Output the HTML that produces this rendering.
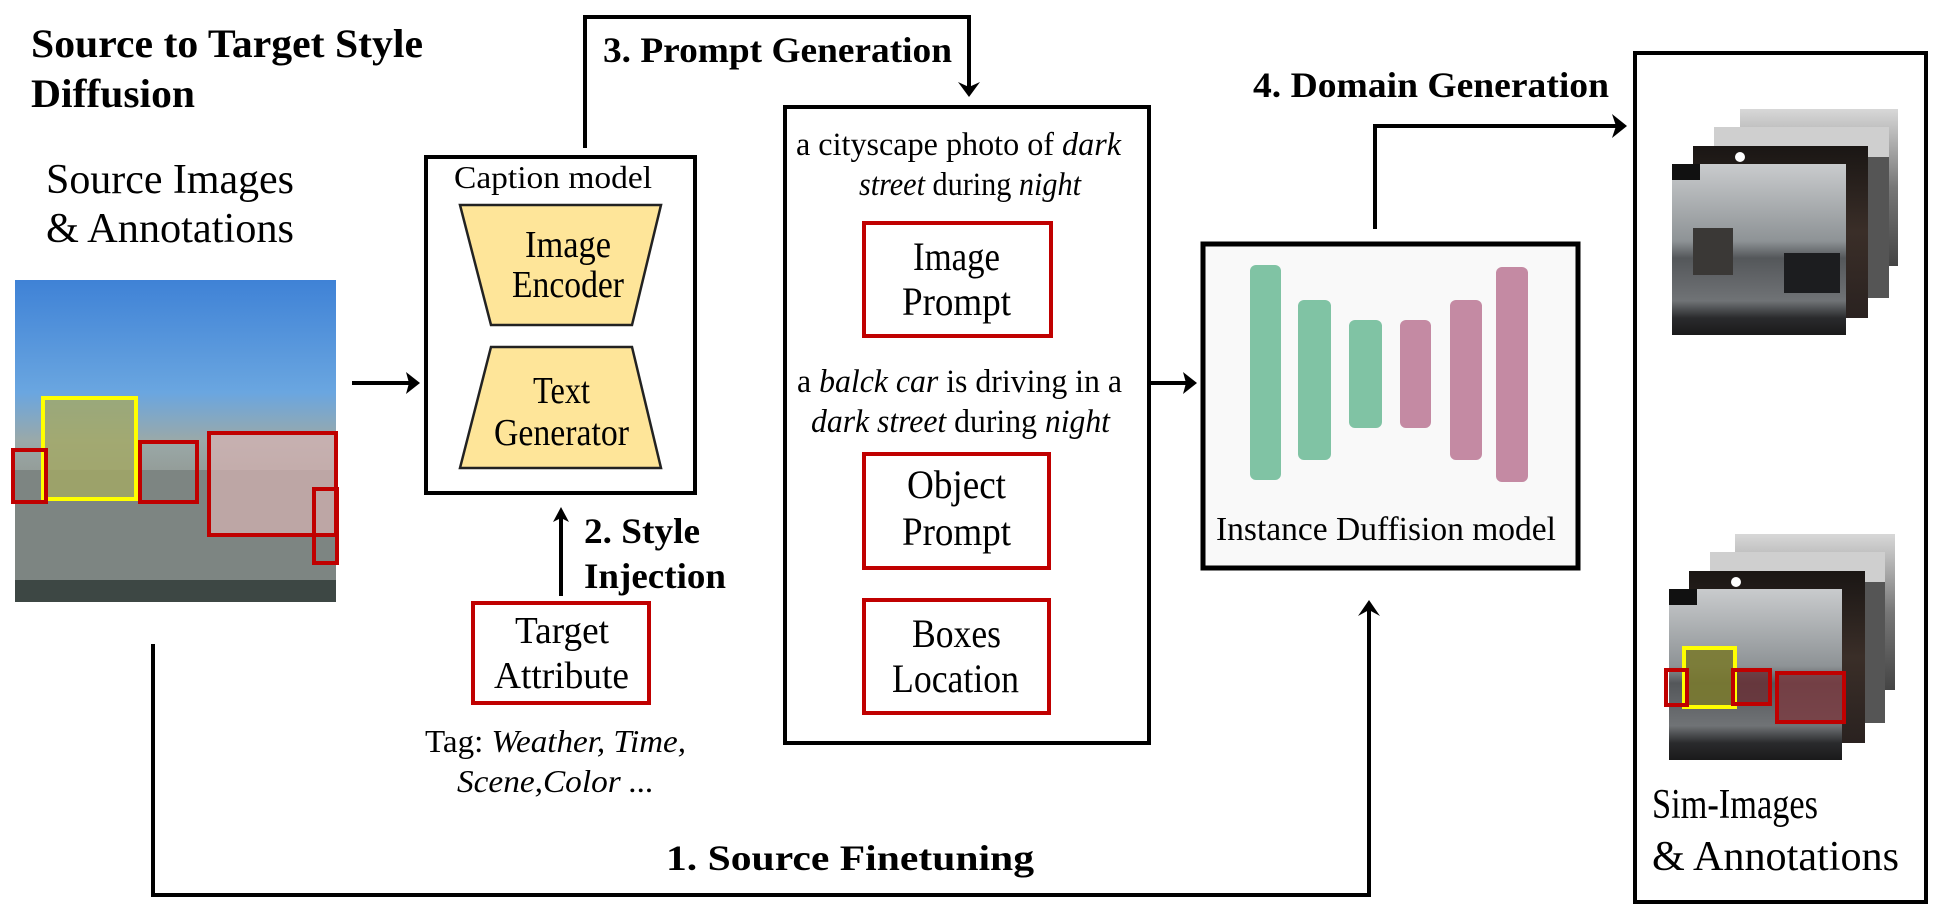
<!DOCTYPE html>
<html><head><meta charset="utf-8"><style>
html,body{margin:0;padding:0;background:#fff;}
svg{display:block;}
text{font-family:"Liberation Serif","Times New Roman",serif;fill:#000;}
.b{font-weight:bold;}
</style></head><body>
<svg width="1938" height="910" viewBox="0 0 1938 910" xmlns="http://www.w3.org/2000/svg">
<defs>
<linearGradient id="src" x1="0" y1="0" x2="0" y2="1">
<stop offset="0" stop-color="#3f82d6"/><stop offset="0.35" stop-color="#6aa6e0"/><stop offset="0.5" stop-color="#9aa9a8"/><stop offset="0.7" stop-color="#8d8f88"/><stop offset="1" stop-color="#5d6a66"/></linearGradient>
<linearGradient id="gray" x1="0" y1="0" x2="0" y2="1">
<stop offset="0" stop-color="#c9cbcd"/><stop offset="0.45" stop-color="#8e9396"/><stop offset="0.55" stop-color="#54575a"/><stop offset="0.8" stop-color="#707376"/><stop offset="0.9" stop-color="#2a2b2d"/><stop offset="1" stop-color="#1a1a1a"/></linearGradient>
<linearGradient id="dark" x1="0" y1="0" x2="0" y2="1">
<stop offset="0" stop-color="#1a1614"/><stop offset="0.5" stop-color="#3a2e28"/><stop offset="1" stop-color="#2a2220"/></linearGradient>
<linearGradient id="fog" x1="0" y1="0" x2="0" y2="1">
<stop offset="0" stop-color="#d8d8d8"/><stop offset="0.5" stop-color="#777"/><stop offset="1" stop-color="#444"/></linearGradient>
</defs>

<text class="b" x="31" y="57" font-size="40" textLength="392" lengthAdjust="spacingAndGlyphs">Source to Target Style</text>
<text class="b" x="31" y="107" font-size="40" textLength="164" lengthAdjust="spacingAndGlyphs">Diffusion</text>

<text x="46" y="193" font-size="42" textLength="248" lengthAdjust="spacingAndGlyphs">Source Images</text>
<text x="46" y="242" font-size="42" textLength="248" lengthAdjust="spacingAndGlyphs">&amp; Annotations</text>

<rect x="15" y="280" width="321" height="322" fill="url(#src)"/>
<rect x="15" y="470" width="321" height="132" fill="#7d8582"/>
<rect x="15" y="580" width="321" height="22" fill="#3d4744"/>
<rect x="43" y="398" width="93" height="101" fill="#a4a964" opacity="0.8"/>
<rect x="43" y="398" width="93" height="101" fill="none" stroke="#ffff00" stroke-width="4"/>
<rect x="209" y="433" width="127" height="102" fill="#d9b4b4" opacity="0.7"/>
<g fill="none" stroke="#c00000" stroke-width="4">
<rect x="13" y="450" width="33" height="52"/>
<rect x="140" y="442" width="57" height="60"/>
<rect x="209" y="433" width="127" height="102"/>
<rect x="314" y="489" width="23" height="74"/>
</g>

<g stroke="#000" stroke-width="4" fill="none">
<line x1="352" y1="383" x2="414" y2="383"/>
<polyline points="585,148 585,17 969,17 969,92"/>
<line x1="1149" y1="383" x2="1190" y2="383"/>
<polyline points="1375,229 1375,126 1620,126"/>
<polyline points="153,644 153,895 1369,895 1369,608"/>
<line x1="561" y1="596" x2="561" y2="514"/>
<line x1="1751" y1="366" x2="1751" y2="490"/>
</g>
<g fill="#000">
<polygon points="420,383 406,372 409,383 406,394"/>
<polygon points="969,97 958,82 969,87 980,82"/>
<polygon points="1197,383 1183,372 1186,383 1183,394"/>
<polygon points="1627,126 1612,114 1616,126 1612,138"/>
<polygon points="1369,600 1358,616 1369,610 1380,616"/>
<polygon points="561,507 553,522 561,518 569,522"/>
<polygon points="1751,498 1742,482 1751,487 1760,482"/>
</g>

<text class="b" x="603" y="62" font-size="36" textLength="349" lengthAdjust="spacingAndGlyphs">3. Prompt Generation</text>
<text class="b" x="1253" y="97" font-size="36" textLength="356" lengthAdjust="spacingAndGlyphs">4. Domain Generation</text>
<text class="b" x="666" y="870" font-size="36" textLength="368" lengthAdjust="spacingAndGlyphs">1. Source Finetuning</text>
<text class="b" x="584" y="543" font-size="36" textLength="116" lengthAdjust="spacingAndGlyphs">2. Style</text>
<text class="b" x="584" y="588" font-size="36" textLength="142" lengthAdjust="spacingAndGlyphs">Injection</text>
<text class="b" x="1763" y="417" font-size="36" textLength="148" lengthAdjust="spacingAndGlyphs">5. Object</text>
<text class="b" x="1770" y="462" font-size="36" textLength="134" lengthAdjust="spacingAndGlyphs">Filtering</text>

<rect x="426" y="157" width="269" height="336" fill="#fff" stroke="#000" stroke-width="4"/>
<text x="454" y="188" font-size="32" textLength="198" lengthAdjust="spacingAndGlyphs">Caption model</text>
<polygon points="460,205 661,205 632,325 491,325" fill="#fee599" stroke="#222" stroke-width="2.5"/>
<polygon points="491,347 632,347 661,468 460,468" fill="#fee599" stroke="#222" stroke-width="2.5"/>
<g font-size="38">
<text x="525" y="257" textLength="86" lengthAdjust="spacingAndGlyphs">Image</text>
<text x="512" y="297" textLength="112" lengthAdjust="spacingAndGlyphs">Encoder</text>
<text x="533" y="403" textLength="57" lengthAdjust="spacingAndGlyphs">Text</text>
<text x="494" y="445" textLength="135" lengthAdjust="spacingAndGlyphs">Generator</text>
</g>

<rect x="473" y="603" width="176" height="100" fill="#fff" stroke="#c00000" stroke-width="4"/>
<g font-size="38">
<text x="515" y="643" textLength="94" lengthAdjust="spacingAndGlyphs">Target</text>
<text x="494" y="688" textLength="135" lengthAdjust="spacingAndGlyphs">Attribute</text>
</g>
<text x="425" y="752" font-size="32" textLength="261" lengthAdjust="spacingAndGlyphs">Tag: <tspan font-style="italic">Weather, Time,</tspan></text>
<text x="457" y="792" font-size="32" font-style="italic" textLength="197" lengthAdjust="spacingAndGlyphs">Scene,Color ...</text>

<rect x="785" y="107" width="364" height="636" fill="#fff" stroke="#000" stroke-width="4"/>
<g font-size="33">
<text x="796" y="155" textLength="325" lengthAdjust="spacingAndGlyphs">a cityscape photo of <tspan font-style="italic">dark</tspan></text>
<text x="859" y="195" textLength="222" lengthAdjust="spacingAndGlyphs"><tspan font-style="italic">street</tspan> during <tspan font-style="italic">night</tspan></text>
<text x="797" y="392" textLength="325" lengthAdjust="spacingAndGlyphs">a <tspan font-style="italic">balck car</tspan> is driving in a</text>
<text x="811" y="432" textLength="299" lengthAdjust="spacingAndGlyphs"><tspan font-style="italic">dark street</tspan> during <tspan font-style="italic">night</tspan></text>
</g>
<g fill="#fff" stroke="#c00000" stroke-width="4">
<rect x="864" y="223" width="187" height="113"/>
<rect x="864" y="454" width="185" height="114"/>
<rect x="864" y="600" width="185" height="113"/>
</g>
<g font-size="40">
<text x="913" y="270" textLength="87" lengthAdjust="spacingAndGlyphs">Image</text>
<text x="902" y="315" textLength="109" lengthAdjust="spacingAndGlyphs">Prompt</text>
<text x="907" y="498" textLength="99" lengthAdjust="spacingAndGlyphs">Object</text>
<text x="902" y="545" textLength="109" lengthAdjust="spacingAndGlyphs">Prompt</text>
<text x="912" y="647" textLength="89" lengthAdjust="spacingAndGlyphs">Boxes</text>
<text x="892" y="692" textLength="127" lengthAdjust="spacingAndGlyphs">Location</text>
</g>

<rect x="1203" y="244" width="375" height="324" fill="#f9f9f9" stroke="#000" stroke-width="5"/>
<g>
<rect x="1250" y="265" width="31" height="215" rx="6" fill="#80c3a4"/>
<rect x="1298" y="300" width="33" height="160" rx="6" fill="#80c3a4"/>
<rect x="1349" y="320" width="33" height="108" rx="6" fill="#80c3a4"/>
<rect x="1400" y="320" width="31" height="108" rx="6" fill="#c48aa3"/>
<rect x="1450" y="300" width="32" height="160" rx="6" fill="#c48aa3"/>
<rect x="1496" y="267" width="32" height="215" rx="6" fill="#c48aa3"/>
</g>
<text x="1216" y="540" font-size="34" textLength="340" lengthAdjust="spacingAndGlyphs">Instance Duffision model</text>

<rect x="1635" y="53" width="291" height="849" fill="#fff" stroke="#000" stroke-width="4"/>
<g>
<rect x="1740" y="109" width="158" height="157" fill="url(#fog)"/>
<rect x="1714" y="127" width="175" height="171" fill="#555"/>
<rect x="1714" y="127" width="175" height="30" fill="#cfcfcf"/>
<rect x="1693" y="146" width="175" height="172" fill="url(#dark)"/>
<circle cx="1740" cy="157" r="5" fill="#fff"/>
<rect x="1672" y="164" width="174" height="171" fill="url(#gray)"/>
<rect x="1672" y="164" width="28" height="16" fill="#111"/>
<rect x="1693" y="228" width="40" height="47" fill="#3a3836"/>
<rect x="1784" y="253" width="56" height="40" fill="#1c1d1f"/>
</g>
<g>
<rect x="1735" y="534" width="160" height="156" fill="url(#fog)"/>
<rect x="1710" y="552" width="175" height="171" fill="#555"/>
<rect x="1710" y="552" width="175" height="30" fill="#cfcfcf"/>
<rect x="1689" y="571" width="176" height="172" fill="url(#dark)"/>
<circle cx="1736" cy="582" r="5" fill="#fff"/>
<rect x="1669" y="589" width="173" height="171" fill="url(#gray)"/>
<rect x="1669" y="589" width="28" height="16" fill="#111"/>
<rect x="1684" y="648" width="51" height="59" fill="#7a7a30" opacity="0.9"/>
<rect x="1777" y="673" width="67" height="49" fill="#7a3a40" opacity="0.8"/>
<rect x="1733" y="670" width="37" height="34" fill="#6a3036" opacity="0.8"/>
<rect x="1684" y="648" width="51" height="59" fill="none" stroke="#ffff00" stroke-width="4"/>
<g fill="none" stroke="#c00000" stroke-width="4">
<rect x="1666" y="670" width="21" height="35"/>
<rect x="1733" y="670" width="37" height="34"/>
<rect x="1777" y="673" width="67" height="49"/>
</g>
</g>
<text x="1652" y="818" font-size="42" textLength="166" lengthAdjust="spacingAndGlyphs">Sim-Images</text>
<text x="1652" y="870" font-size="42" textLength="247" lengthAdjust="spacingAndGlyphs">&amp; Annotations</text>
</svg>
</body></html>
